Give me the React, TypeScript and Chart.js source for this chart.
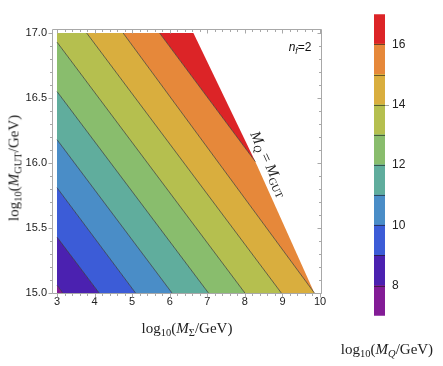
import React, { useEffect, useRef } from 'react';
import { Chart, registerables } from 'chart.js';

Chart.register(...registerables);

// ---- data ----
// contour levels of log10(M_Q/GeV) and the end points of each contour line
const levels = [8, 9, 10, 11, 12, 13, 14, 15, 16];
const lineStartX = [3, 3, 3, 3, 3, 3, 3.79, 4.76, 5.73];
const lineStartY = [15.06, 15.43, 15.81, 16.18, 16.55, 16.93, 17, 17, 17];
const lineEndX = [3.15, 4.12, 5.09, 6.06, 7.03, 8.0, 8.97, 9.85, 8.28];
const lineEndY = [15, 15, 15, 15, 15, 15, 15, 15, 16.01];

// allowed region (M_Q <= M_GUT)
const regionX = [3, 9.85, 8.28, 6.63, 3];
const regionY = [15, 15, 16.01, 17, 17];

// colour bands (lower edge of each band)
const bandLow = [7, 8, 9, 10, 11, 12, 13, 14, 15, 16];
const bandColors = [
  '#831c96', '#4b21b0', '#3c5cd7', '#4a8dc7', '#60ad9d',
  '#89bd6d', '#b5bf4f', '#d9ae3e', '#e6883a', '#dc2427',
];

const xTicks = [3, 4, 5, 6, 7, 8, 9, 10];
const yTicks = [15, 15.5, 16, 16.5, 17];
const colorbarTicks = [8, 10, 12, 14, 16];

type P = { x: number; y: number };

function clip(poly: P[], s: P, e: P, keepHigh: boolean): P[] {
  const dx = e.x - s.x;
  const dy = e.y - s.y;
  const side = (p: P) => {
    const c = dx * (p.y - s.y) - dy * (p.x - s.x);
    return keepHigh ? c : -c;
  };
  const out: P[] = [];
  for (let i = 0; i < poly.length; i++) {
    const a = poly[i];
    const b = poly[(i + 1) % poly.length];
    const sa = side(a);
    const sb = side(b);
    if (sa >= 0) out.push(a);
    if ((sa >= 0) !== (sb >= 0)) {
      const t = sa / (sa - sb);
      out.push({ x: a.x + t * (b.x - a.x), y: a.y + t * (b.y - a.y) });
    }
  }
  return out;
}

function bandPolygon(low: number): P[] {
  let poly: P[] = regionX.map((x, i) => ({ x, y: regionY[i] }));
  const li = levels.indexOf(low);
  if (li >= 0) {
    poly = clip(poly, { x: lineStartX[li], y: lineStartY[li] }, { x: lineEndX[li], y: lineEndY[li] }, true);
  }
  const ui = levels.indexOf(low + 1);
  if (ui >= 0) {
    poly = clip(poly, { x: lineStartX[ui], y: lineStartY[ui] }, { x: lineEndX[ui], y: lineEndY[ui] }, false);
  }
  if (poly.length) poly.push(poly[0]);
  return poly;
}

const framePlugin = {
  id: 'frameTicks',
  afterDraw(chart: any) {
    const { ctx, chartArea: a, scales } = chart;
    const xs = scales.x;
    const ys = scales.y;
    ctx.save();
    ctx.strokeStyle = '#a8a8a8';
    ctx.lineWidth = 1;
    const L = Math.round(a.left) + 0.5;
    const R = Math.round(a.right) - 0.5;
    const T = Math.round(a.top) + 0.5;
    const B = Math.round(a.bottom) - 0.5;
    ctx.beginPath();
    ctx.rect(L, T, R - L, B - T);
    ctx.stroke();
    ctx.beginPath();
    for (let k = 0; k <= 35; k++) {
      const v = 3 + k * 0.2;
      const major = k % 5 === 0;
      const px = Math.round(xs.getPixelForValue(v)) + 0.5;
      const len = major ? 4 : 2.5;
      ctx.moveTo(px, B);
      ctx.lineTo(px, B + len);
      ctx.moveTo(px, T);
      ctx.lineTo(px, T + len);
    }
    for (let k = 0; k <= 20; k++) {
      const v = 15 + k * 0.1;
      const major = k % 5 === 0;
      const py = Math.round(ys.getPixelForValue(v)) + 0.5;
      const len = major ? 4 : 2.5;
      ctx.moveTo(L, py);
      ctx.lineTo(L - len, py);
      ctx.moveTo(R, py);
      ctx.lineTo(R - len, py);
    }
    ctx.stroke();
    ctx.restore();
  },
};

// separators between colour bands of the colour bar, at the contour levels
const separatorPlugin = {
  id: 'barSeparators',
  afterDatasetsDraw(chart: any) {
    const { ctx, chartArea: a, scales } = chart;
    ctx.save();
    ctx.strokeStyle = 'rgba(25,25,25,0.6)';
    ctx.lineWidth = 1;
    ctx.beginPath();
    levels.forEach((v) => {
      const py = Math.round(scales.y.getPixelForValue(v)) + 0.5;
      ctx.moveTo(a.left, py);
      ctx.lineTo(a.right, py);
    });
    ctx.stroke();
    // small outward tick at 14 as in the reference
    ctx.strokeStyle = '#aaa';
    ctx.beginPath();
    const p14 = Math.round(scales.y.getPixelForValue(14)) + 0.5;
    ctx.moveTo(a.right, p14);
    ctx.lineTo(a.right + 4, p14);
    ctx.stroke();
    ctx.restore();
  },
};

const tickFont = { family: "'Liberation Sans', Arial, sans-serif", size: 11 };

export default function App() {
  const mainRef = useRef<HTMLCanvasElement>(null);
  const barRef = useRef<HTMLCanvasElement>(null);

  useEffect(() => {
    const bandSets = bandLow.map((low, i) => ({
      data: bandPolygon(low),
      backgroundColor: bandColors[i],
      borderWidth: 0,
      borderColor: 'rgba(0,0,0,0)',
      pointRadius: 0,
      tension: 0,
      fill: 'shape',
      order: 2,
    }));
    const lineSets = levels.map((_, i) => ({
      data: [
        { x: lineStartX[i], y: lineStartY[i] },
        { x: lineEndX[i], y: lineEndY[i] },
      ],
      borderColor: 'rgba(35,35,35,0.8)',
      borderWidth: 0.8,
      pointRadius: 0,
      fill: false,
      tension: 0,
      order: 1,
    }));

    const main = new Chart(mainRef.current as HTMLCanvasElement, {
      type: 'line',
      data: { datasets: [...bandSets, ...lineSets] as any },
      options: {
        responsive: false,
        animation: false,
        events: [],
        layout: { padding: { top: 29, right: 121, left: 0, bottom: 0 } },
        plugins: { legend: { display: false }, tooltip: { enabled: false } },
        scales: {
          x: {
            type: 'linear',
            min: 2.867,
            max: 10.053,
            grid: { display: false, drawTicks: false },
            border: { display: false },
            afterBuildTicks: (s: any) => { s.ticks = xTicks.map((v) => ({ value: v })); },
            afterFit: (s: any) => { s.height = 72; },
            ticks: { color: '#222', font: tickFont, padding: 1, maxRotation: 0, callback: (v: any) => String(v) },
          },
          y: {
            type: 'linear',
            min: 14.992,
            max: 17.031,
            grid: { display: false, drawTicks: false },
            border: { display: false },
            afterBuildTicks: (s: any) => { s.ticks = yTicks.map((v) => ({ value: v })); },
            afterFit: (s: any) => { s.width = 52; },
            ticks: { color: '#222', font: tickFont, padding: 5, callback: (v: any) => Number(v).toFixed(1) },
          },
        },
      } as any,
      plugins: [framePlugin],
    });

    const bar = new Chart(barRef.current as HTMLCanvasElement, {
      type: 'bar',
      data: {
        labels: ['c'],
        datasets: bandLow.map((low, i) => ({
          data: [[low, low + 1]],
          backgroundColor: bandColors[i],
          borderWidth: 0,
          grouped: false,
          inflateAmount: 0.5,
          barPercentage: 1,
          categoryPercentage: 1,
        })) as any,
      },
      options: {
        responsive: false,
        animation: false,
        events: [],
        layout: { padding: { top: 13, bottom: 13, left: 0, right: 0 } },
        plugins: { legend: { display: false }, tooltip: { enabled: false } },
        scales: {
          x: { display: false },
          y: {
            position: 'right',
            min: 7,
            max: 17,
            grid: { display: false, drawTicks: false },
            border: { display: false },
            afterBuildTicks: (s: any) => { s.ticks = colorbarTicks.map((v) => ({ value: v })); },
            afterFit: (s: any) => { s.width = 58; },
            ticks: { color: '#222', font: { ...tickFont, size: 12 }, padding: 7 },
          },
        },
      } as any,
      plugins: [separatorPlugin],
    });

    return () => {
      main.destroy();
      bar.destroy();
    };
  }, []);

  const serif = "'Liberation Serif', 'Times New Roman', serif";
  const sub: React.CSSProperties = { fontSize: '70%', position: 'relative', top: '0.3em' };

  return (
    <div style={{ position: 'fixed', left: 0, top: 0, width: 443, height: 366, background: '#fff', overflow: 'hidden' }}>
      <canvas ref={mainRef} width={443} height={366} style={{ position: 'absolute', left: 0, top: 0 }} />
      <canvas ref={barRef} width={69} height={330} style={{ position: 'absolute', left: 374, top: 0 }} />
      <div style={{ position: 'absolute', left: 14, top: 168, transform: 'translate(-50%,-50%) rotate(-90deg)', whiteSpace: 'nowrap', fontFamily: serif, fontSize: 15, color: '#222' }}>
        log<span style={sub}>10</span>(<i>M</i><span style={sub}>GUT</span>/GeV)
      </div>
      <div style={{ position: 'absolute', left: 187, top: 328, transform: 'translate(-50%,-50%)', whiteSpace: 'nowrap', fontFamily: serif, fontSize: 15, color: '#222' }}>
        log<span style={sub}>10</span>(<i>M</i><span style={sub}>Σ</span>/GeV)
      </div>
      <div style={{ position: 'absolute', left: 387, top: 349, transform: 'translate(-50%,-50%)', whiteSpace: 'nowrap', fontFamily: serif, fontSize: 15, color: '#222' }}>
        log<span style={sub}>10</span>(<i>M</i><span style={{ ...sub, fontStyle: 'italic' }}>Q</span>/GeV)
      </div>
      <div style={{ position: 'absolute', left: 300, top: 47, transform: 'translate(-50%,-50%)', whiteSpace: 'nowrap', fontFamily: "'Liberation Sans', Arial, sans-serif", fontSize: 12, color: '#111' }}>
        <i>n</i><span style={{ ...sub, fontStyle: 'italic' }}>f</span>=2
      </div>
      <div style={{ position: 'absolute', left: 269, top: 164, transform: 'translate(-50%,-50%) rotate(65deg)', whiteSpace: 'nowrap', fontFamily: serif, fontSize: 15, color: '#222' }}>
        <i>M</i><span style={{ ...sub, fontStyle: 'italic' }}>Q</span> = <i>M</i><span style={sub}>GUT</span>
      </div>
    </div>
  );
}
